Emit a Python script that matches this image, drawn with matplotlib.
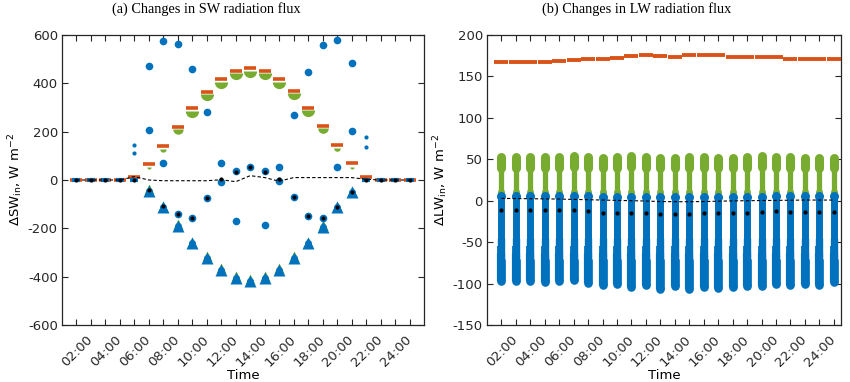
import numpy as np
import matplotlib
matplotlib.use("Agg")
import matplotlib.pyplot as plt

nan = np.nan
plt.rcParams['axes.unicode_minus'] = False
plt.rcParams['font.family'] = ['DejaVu Sans']

hours = list(range(1, 25))
tick_labels = [f"{h:02d}:00" if h % 2 == 0 else "" for h in hours]

# ---------------- (a) SW ----------------
sw_orange = [0, 0, 0, 0, 12, 66, 140, 220, 296, 365, 418, 452, 462, 452, 420, 370, 300, 225, 145, 69, 14, 0, 0, 0]
sw_green_pos = [nan, nan, nan, nan, nan, 52, 128, 210, 284, 354, 407, 441, 451, 441, 407, 358, 289, 214, 133, 55, nan, nan, nan, nan]
sw_green_neg = [nan, nan, nan, nan, nan, -38, -106, -183, -255, -316, -364, -398, -408, -398, -364, -316, -255, -185, -106, -45, nan, nan, nan, nan]
sw_blue_tri = [nan, nan, nan, nan, nan, -44, -113, -190, -262, -324, -372, -407, -416, -407, -372, -324, -262, -193, -113, -51, nan, nan, nan, nan]
sw_blue_a = [nan, nan, nan, nan, 145, 473, 576, 563, 458, 283, 69, 39, 55, 39, 55, 269, 448, 558, 579, 485, 179, nan, nan, nan]
sw_blue_b = [nan, nan, nan, nan, 113, 207, 69, -142, -156, -73, -7, -170, nan, -188, -5, -69, -149, -156, 55, 203, 135, nan, nan, nan]
sw_blue_zero = [0, 0, 0, 0, 0, nan, nan, nan, nan, nan, nan, nan, nan, nan, nan, nan, nan, nan, nan, nan, 0, 0, 0, 0]
sw_black = [0, 0, 0, 0, 0, -41, -106, -142, -156, -73, 3, 34, 52, 34, 3, -69, -149, -156, -110, -48, 0, 0, 0, 0]
sw_mean = [0, 0, 0, 0, 14, 0, -3, -3, -3, -3, 1, -7, 18, 10, -5, 10, 10, 10, 10, 10, 3, 0, 0, 0]

# ---------------- (b) LW ----------------
lw_orange = [167.8, 167.8, 167.8, 167.8, 169.0, 170.2, 170.6, 170.6, 172.2, 174.6, 175.4, 175.0, 174.0,
             175.4, 176.2, 175.8, 173.8, 173.0, 173.8, 173.0, 171.4, 171.0, 171.0, 171.0]
lw_green_top = [57, 57, 57, 57, 57, 58, 57, 56, 57, 58, 57, 56, 56, 57, 57, 56, 56, 57, 58, 57, 57, 56, 56, 56]
lw_green_bot = [8, 8, 8, 8, 8, 8, 8, 8, 8, 8, 8, 8, 8, 8, 8, 8, 8, 8, 8, 8, 8, 8, 8, 8]
lw_blue_top = [10, 10, 10, 10, 10, 10, 10, 9, 9, 9, 9, 8, 8, 8, 8, 9, 9, 9, 9, 10, 10, 10, 10, 10]
lw_blue_bot = [-101.7, -101.7, -101.7, -102.5, -101.7, -101, -104.9, -107, -106, -109, -107, -111, -108,
               -111.8, -109, -110, -109, -107.5, -107.5, -106, -107, -106, -106.5, -103.7]
lw_black = [-11.2, -11.2, -11.2, -11.2, -11.2, -11.2, -12.5, -14.5, -14.5, -14.5, -15.3, -16, -16.5,
            -16, -15.3, -15.3, -15.3, -14.5, -13.7, -12.9, -13.7, -13.7, -13.7, -14.1]
lw_mean = [2.8, 2.6, 2.4, 2.2, 2.0, 1.6, 1.2, 0.8, 0.4, 0.0, -0.4, -1.0, -1.2, -1.2, -1.0, -0.6,
           -0.2, 0.0, 0.2, 0.4, 0.6, 0.8, 0.8, 0.8]

ORANGE = '#D95319'
GREEN = '#77AC30'
BLUE = '#0072BD'

fig = plt.figure(figsize=(8.5, 3.82), dpi=100)
ax1 = fig.add_axes([62 / 850, 57 / 382, 362 / 850, 290 / 382])
ax2 = fig.add_axes([487 / 850, 57 / 382, 354 / 850, 290 / 382])

x = np.array(hours, dtype=float)

# ---- panel a ----
so = np.array(sw_orange, float)
gp = np.array(sw_green_pos, float)
for xi, v in zip(x, gp):
    if np.isfinite(v):
        ms = float(np.clip(v / 28.0, 3.0, 9.5))
        ax1.plot([xi], [v], ls='none', marker='o', fillstyle='bottom', ms=ms,
                 mfc=GREEN, mfcalt='none', mec='none', zorder=3)
ax1.plot(x, sw_orange, ls='none', marker='_', ms=8, mew=2.6, color=ORANGE, zorder=4)
ax1.plot(x, sw_green_neg, ls='none', marker='^', ms=7.5, color=GREEN, mec='none', zorder=3)
ax1.plot(x, sw_blue_tri, ls='none', marker='^', ms=8, color=BLUE, mec='none', zorder=4)
ax1.plot(x, sw_blue_tri, ls='none', marker='o', ms=5, color=BLUE, mec='none', zorder=4)
ba = np.array(sw_blue_a, float)
bb = np.array(sw_blue_b, float)
twilight = so < 20
for arr in (ba, bb):
    big = np.where(twilight, nan, arr)
    small = np.where(twilight, arr, nan)
    ax1.plot(x, big, ls='none', marker='o', ms=5.5, color=BLUE, mec='none', zorder=4)
    ax1.plot(x, small, ls='none', marker='o', ms=3, color=BLUE, mec='none', zorder=4)
ax1.plot(x, sw_blue_zero, ls='none', marker='_', ms=6, mew=3, color=BLUE, zorder=4)
ax1.plot(x, sw_mean, ls=(0, (3, 2)), color='k', lw=0.8, zorder=5)
ax1.plot(x, sw_black, ls='none', marker='o', ms=3, color='k', mec='none', zorder=6)

ax1.set_xlim(0, 25)
ax1.set_ylim(-600, 600)
ax1.set_yticks(np.arange(-600, 601, 200))
ax1.set_ylabel(r'$\Delta$SW$_{\rm in}$, W m$^{-2}$', fontsize=9.5, labelpad=2)
ax1.set_title('(a) Changes in SW radiation flux', family='Liberation Serif', fontsize=10.3,
              x=(206 - 62) / 362, pad=16)

# ---- panel b ----
for xi, gt, gb, bt, bbot in zip(x, lw_green_top, lw_green_bot, lw_blue_top, lw_blue_bot):
    # green stalk and bulb
    ax2.plot([xi, xi], [gb + 3, gt - 14], color=GREEN, lw=3.8, solid_capstyle='round', zorder=2)
    ax2.plot([xi, xi], [gt - 17, gt - 4], color=GREEN, lw=6.5, solid_capstyle='round', zorder=2)
    ax2.plot([xi], [gb + 2], ls='none', marker='o', ms=5, color=GREEN, mec='none', zorder=2)
    # blue column: narrow upper part, gradually wider lower part
    ax2.plot([xi, xi], [bbot + 5, bt - 4], color=BLUE, lw=5.0, solid_capstyle='round', zorder=3)
    for top, w in ((-45, 5.3), (-55, 5.6), (-63, 5.9), (-70, 6.2)):
        ax2.plot([xi, xi], [bbot + 5, top], color=BLUE, lw=w, solid_capstyle='butt', zorder=3)
    ax2.plot([xi], [bbot + 5], ls='none', marker='o', ms=6.2, color=BLUE, mec='none', zorder=3)
    ax2.plot([xi], [bt - 4], ls='none', marker='o', ms=6.5, color=BLUE, mec='none', zorder=3)
ax2.plot(x, lw_orange, ls='none', marker='_', ms=10, mew=2.8, color=ORANGE, zorder=4)
ax2.plot(x, lw_mean, ls=(0, (3, 2)), color='k', lw=0.8, zorder=5)
ax2.plot(x, lw_black, ls='none', marker='o', ms=3, color='k', mec='none', zorder=6)

ax2.set_xlim(0, 24.5)
ax2.set_ylim(-150, 200)
ax2.set_yticks(np.arange(-150, 201, 50))
ax2.set_ylabel(r'$\Delta$LW$_{\rm in}$, W m$^{-2}$', fontsize=9.5, labelpad=2)
ax2.set_title('(b) Changes in LW radiation flux', family='Liberation Serif', fontsize=10.3,
              x=(637 - 487) / 354, pad=16)

for ax in (ax1, ax2):
    ax.set_xticks(hours)
    ax.set_xticklabels(tick_labels, rotation=45, ha='right', va='center', rotation_mode='anchor')
    ax.tick_params(direction='in', top=True, right=True, length=4, width=0.8,
                   labelsize=9.5, colors='#262626', pad=3)
    ax.tick_params(axis='x', pad=9)
    ax.set_xlabel('Time', fontsize=9.5, labelpad=0)
    for s in ax.spines.values():
        s.set_linewidth(0.9)
        s.set_color('#262626')

fig.savefig('out.png', dpi=100)
